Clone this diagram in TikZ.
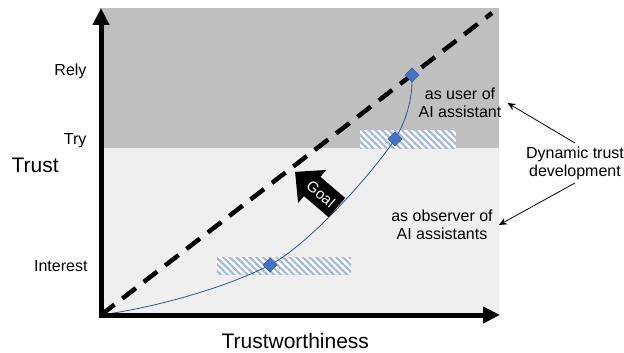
\documentclass[tikz,border=0pt]{standalone}
\usepackage{fontspec}
\setmainfont{Liberation Sans}
\usetikzlibrary{shapes.geometric,shapes.arrows,arrows.meta,patterns.meta}

\definecolor{relygray}{HTML}{BFBFBF}
\definecolor{interestgray}{HTML}{EFEFEF}
\definecolor{curveblue}{HTML}{2F5597}
\definecolor{markblue}{HTML}{4472C4}
\definecolor{hatchblue}{HTML}{9DB5E2}

\begin{document}
\begin{tikzpicture}[x=1pt,y=-1pt]
    \tikzset{>={Stealth[length=8pt,width=7pt]}}
    \tikzset{stage/.style={font=\fontsize{16}{18}\selectfont, anchor=base east},
             axlbl/.style={font=\fontsize{21}{24}\selectfont, anchor=base west},
             note/.style={font=\fontsize{16}{18}\selectfont, align=center},
             axis/.style={line width=5pt, -{Triangle[length=17pt,width=16pt]}},
             goalline/.style={line width=4.5pt, dash pattern=on 17pt off 10pt},
             dmark/.style={rectangle, rotate=45, minimum size=10pt, inner sep=0pt,
                           fill=markblue, draw=curveblue, line width=0.4pt},
             hatchbox/.style={preaction={fill=white}, pattern color=hatchblue,
                              pattern={Lines[angle=-45,distance=4.7pt,line width=2pt]}},
             goalarrow/.style={single arrow, fill=black, text=white,
                               font=\fontsize{15}{15}\selectfont, rotate=-40.5,
                               shape border rotate=180, single arrow head extend=9pt,
                               single arrow tip angle=88, minimum height=55pt,
                               minimum width=40pt, inner xsep=1pt, inner ysep=7pt}}
  \useasboundingbox (0,0) rectangle (624,353);
  %\draw[step=50,gray,very thin] (0,0) grid (624,353);

  \fill[relygray] (100,8) rectangle (499,148);
  \fill[interestgray] (100,148) rectangle (499,315);

  \path[hatchbox] (217,257) rectangle (351,274);
  \path[hatchbox] (360,130) rectangle (456,148);

\coordinate (O) at (101,315);
\coordinate (ytop) at (101,8);
\coordinate (xend) at (500,315);
\coordinate (dashend) at (492,13);
\coordinate (pI) at (270,265);
\coordinate (pT) at (395,139);
\coordinate (pR) at (412,75);

\draw[goalline] (O) -- (dashend);

\draw[curveblue,line width=0.8pt] (O) .. controls (170,305) and (235,283) .. (pI)
      .. controls (310,244) and (375,170) .. (pT)
      .. controls (405,123) and (413,100) .. (pR);

\node[dmark] (markI) at (pI) {};
\node[dmark] (markT) at (pT) {};
\node[dmark] (markR) at (pR) {};

\draw[axis] ([yshift=-2.5pt]O) -- (ytop);
\draw[axis] ([xshift=-2.5pt]O) -- (xend);

\node[stage] (rely) at (90,76) {Rely};
\node[stage] (try) at (90,144) {Try};
\node[stage] (interest) at (91,271) {Interest};

\node[axlbl] (trust) at (8,172) {Trust};
\node[axlbl] (tw) at (218,348) {Trustworthiness};

\node[goalarrow] (goal) at (321,194) {Goal};

\node[note,inner sep=6pt] (user) at (460,103) {as user of\\AI assistant};
\node[note,inner sep=6pt] (obs) at (442,225) {as observer of\\AI assistants};
\node[note] (dyn) at (575,163) {Dynamic trust\\development};

\draw [->,line width=0.8pt] (dyn.north) -- (user.east);
\draw [->,line width=0.8pt] (dyn.south) -- (obs.east);

\end{tikzpicture}
\end{document}
